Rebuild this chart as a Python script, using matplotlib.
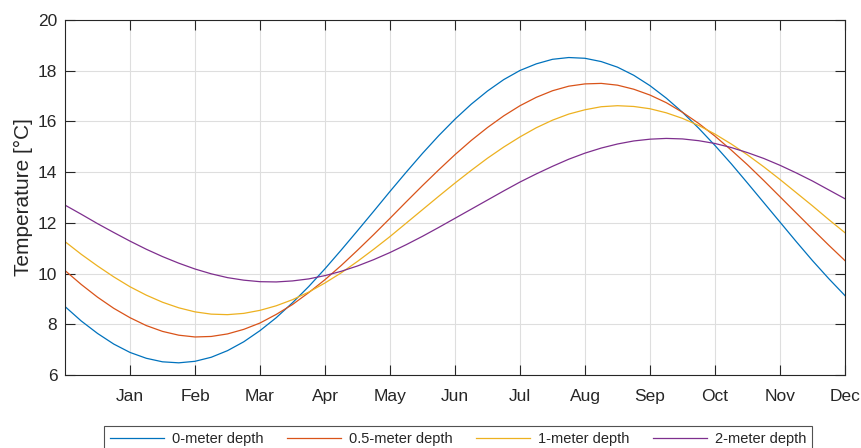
import matplotlib
matplotlib.use("Agg")
import matplotlib.pyplot as plt

plt.rcParams['font.family'] = ['Liberation Sans', 'DejaVu Sans']

# month position (0 = start of axis, 12 = December tick), quarter-month steps
months = [0.0, 0.25, 0.5, 0.75, 1.0, 1.25, 1.5, 1.75, 2.0, 2.25, 2.5, 2.75,
          3.0, 3.25, 3.5, 3.75, 4.0, 4.25, 4.5, 4.75, 5.0, 5.25, 5.5, 5.75,
          6.0, 6.25, 6.5, 6.75, 7.0, 7.25, 7.5, 7.75, 8.0, 8.25, 8.5, 8.75,
          9.0, 9.25, 9.5, 9.75, 10.0, 10.25, 10.5, 10.75, 11.0, 11.25, 11.5, 11.75,
          12.0]

depth_0m = [8.70, 8.13, 7.64, 7.22, 6.89, 6.66, 6.52, 6.48, 6.54, 6.70, 6.96, 7.31,
            7.75, 8.26, 8.85, 9.49, 10.19, 10.93, 11.69, 12.46, 13.24, 14.00, 14.74, 15.44,
            16.09, 16.68, 17.20, 17.65, 18.01, 18.27, 18.45, 18.52, 18.49, 18.36, 18.14, 17.82,
            17.41, 16.92, 16.36, 15.73, 15.05, 14.33, 13.57, 12.80, 12.03, 11.26, 10.51, 9.80,
            9.13]
depth_05m = [10.12, 9.57, 9.07, 8.63, 8.26, 7.95, 7.72, 7.57, 7.50, 7.52, 7.62, 7.80,
             8.05, 8.39, 8.78, 9.25, 9.76, 10.32, 10.92, 11.54, 12.18, 12.83, 13.47, 14.09,
             14.69, 15.25, 15.76, 16.22, 16.62, 16.95, 17.21, 17.39, 17.48, 17.50, 17.43, 17.27,
             17.04, 16.74, 16.36, 15.92, 15.42, 14.87, 14.29, 13.67, 13.03, 12.39, 11.75, 11.12,
             10.51]
depth_1m = [11.26, 10.76, 10.30, 9.87, 9.48, 9.15, 8.87, 8.65, 8.49, 8.40, 8.38, 8.43,
            8.55, 8.73, 8.97, 9.27, 9.63, 10.03, 10.48, 10.96, 11.46, 11.99, 12.52, 13.05,
            13.57, 14.07, 14.55, 14.99, 15.39, 15.75, 16.05, 16.29, 16.46, 16.58, 16.62, 16.59,
            16.50, 16.34, 16.12, 15.84, 15.50, 15.11, 14.68, 14.21, 13.71, 13.19, 12.67, 12.13,
            11.61]
depth_2m = [12.70, 12.34, 11.97, 11.62, 11.28, 10.96, 10.67, 10.41, 10.18, 9.99, 9.84, 9.74,
            9.68, 9.67, 9.71, 9.79, 9.92, 10.09, 10.30, 10.55, 10.83, 11.14, 11.47, 11.82,
            12.18, 12.54, 12.90, 13.26, 13.61, 13.93, 14.23, 14.51, 14.75, 14.95, 15.11, 15.23,
            15.30, 15.33, 15.31, 15.24, 15.13, 14.97, 14.77, 14.54, 14.27, 13.97, 13.65, 13.30,
            12.95]

series_labels = ['0-meter depth', '0.5-meter depth', '1-meter depth', '2-meter depth']
colors = ['#0072BD', '#D95319', '#EDB120', '#7E2F8E']

month_ticks = [1, 2, 3, 4, 5, 6, 7, 8, 9, 10, 11, 12]
month_labels = ['Jan', 'Feb', 'Mar', 'Apr', 'May', 'Jun', 'Jul', 'Aug', 'Sep', 'Oct', 'Nov', 'Dec']
y_ticks = [6, 8, 10, 12, 14, 16, 18, 20]

fig = plt.figure(figsize=(8.61, 4.48), dpi=100)
ax = fig.add_axes([65 / 861, 73 / 448, 780 / 861, 355 / 448])

for vals, lab, col in zip([depth_0m, depth_05m, depth_1m, depth_2m], series_labels, colors):
    ax.plot(months, vals, color=col, lw=0.9, label=lab)

ax.set_xlim(0, 12)
ax.set_ylim(6, 20)
ax.set_xticks(month_ticks)
ax.set_xticklabels(month_labels)
ax.set_yticks(y_ticks)

ax.grid(True, color='#dedede', lw=0.8)
ax.set_axisbelow(True)
for s in ax.spines.values():
    s.set_color('#262626')
    s.set_linewidth(0.8)
ax.tick_params(direction='in', length=7, width=0.8, colors='#262626',
               labelsize=12.5, top=True, right=True)
ax.tick_params(axis='x', pad=10)
ax.tick_params(axis='y', pad=5.5)
ax.set_ylabel('Temperature [°C]', fontsize=15, color='#262626', labelpad=3.5)

leg = fig.legend(loc='upper center', bbox_to_anchor=(458 / 861, 22 / 448), ncol=4,
                 fontsize=10.5, frameon=True, fancybox=False, handlelength=3.7,
                 handletextpad=0.55, columnspacing=1.6, borderpad=0.42,
                 borderaxespad=0)
leg.get_frame().set_edgecolor('#262626')
leg.get_frame().set_linewidth(0.8)
for t in leg.get_texts():
    t.set_color('#262626')

fig.savefig('out.png', dpi=100)
